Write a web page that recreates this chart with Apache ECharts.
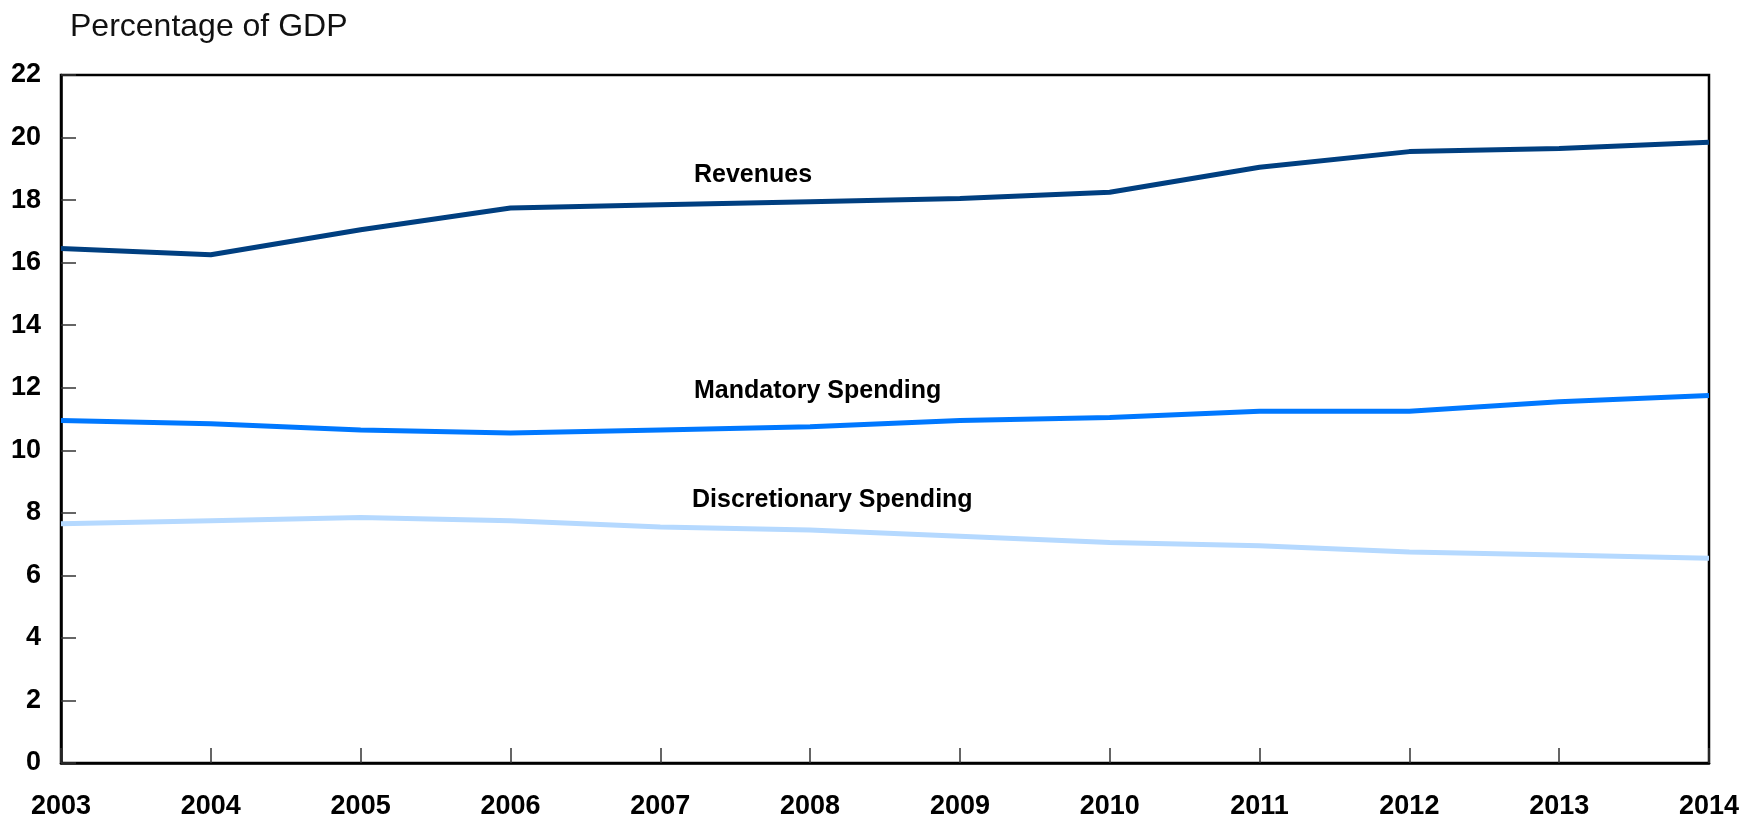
<!DOCTYPE html>
<html>
<head>
<meta charset="utf-8">
<script src="https://cdn.jsdelivr.net/npm/echarts@6/dist/echarts.min.js"></script>
<style>
  html, body { margin: 0; padding: 0; background: #fff; }
  #chart { width: 1761px; height: 820px; }
</style>
</head>
<body>
<div id="chart"></div>
<script>
// years on the x axis
const years = ["2003", "2004", "2005", "2006", "2007", "2008", "2009", "2010", "2011", "2012", "2013", "2014"];
// percentage of GDP
const revenues = [16.45, 16.25, 17.05, 17.75, 17.85, 17.95, 18.05, 18.25, 19.05, 19.55, 19.65, 19.85];
const mandatory = [10.95, 10.85, 10.65, 10.55, 10.65, 10.75, 10.95, 11.05, 11.25, 11.25, 11.55, 11.75];
const discretionary = [7.65, 7.75, 7.85, 7.75, 7.55, 7.45, 7.25, 7.05, 6.95, 6.75, 6.65, 6.55];
const yTicks = [0, 2, 4, 6, 8, 10, 12, 14, 16, 18, 20, 22];

const font = "'Liberation Sans', Arial, sans-serif";
const chart = echarts.init(document.getElementById("chart"));

const lineSeries = (name, data, color) => ({
  name: name,
  type: "line",
  data: data,
  symbol: "none",
  lineStyle: { color: color, width: 5 },
  animation: false
});

const option = {
  backgroundColor: "#fff",
  grid: {
    left: 61,
    right: 52,
    top: 75,
    bottom: 57,
    show: true,
    borderColor: "#000",
    borderWidth: 2.5
  },
  xAxis: {
    type: "category",
    data: years,
    boundaryGap: false,
    axisLine: { lineStyle: { color: "#000", width: 2.5 } },
    axisTick: { inside: true, length: 15, lineStyle: { color: "#333", width: 1.5 } },
    axisLabel: {
      color: "#000",
      fontFamily: font,
      fontWeight: "bold",
      fontSize: 27,
      margin: 30
    },
    splitLine: { show: false }
  },
  yAxis: {
    type: "value",
    min: yTicks[0],
    max: yTicks[yTicks.length - 1],
    interval: 2,
    axisLine: { show: true, lineStyle: { color: "#000", width: 2.5 } },
    axisTick: { show: true, inside: true, length: 15, lineStyle: { color: "#333", width: 1.5 } },
    axisLabel: {
      color: "#000",
      fontFamily: font,
      fontWeight: "bold",
      fontSize: 27,
      margin: 20
    },
    splitLine: { show: false }
  },
  series: [
    lineSeries("Revenues", revenues, "#003f80"),
    lineSeries("Mandatory Spending", mandatory, "#0078ff"),
    lineSeries("Discretionary Spending", discretionary, "#b5d9ff")
  ],
  graphic: [
    {
      type: "text", left: 70, top: 11,
      style: { text: "Percentage of GDP", fill: "#111", font: "32px " + font }
    },
    {
      type: "text", left: 694, top: 163,
      style: { text: "Revenues", fill: "#000", font: "bold 25px " + font }
    },
    {
      type: "text", left: 694, top: 379,
      style: { text: "Mandatory Spending", fill: "#000", font: "bold 25px " + font }
    },
    {
      type: "text", left: 692, top: 488,
      style: { text: "Discretionary Spending", fill: "#000", font: "bold 25px " + font }
    }
  ]
};

chart.setOption(option);
</script>
</body>
</html>
